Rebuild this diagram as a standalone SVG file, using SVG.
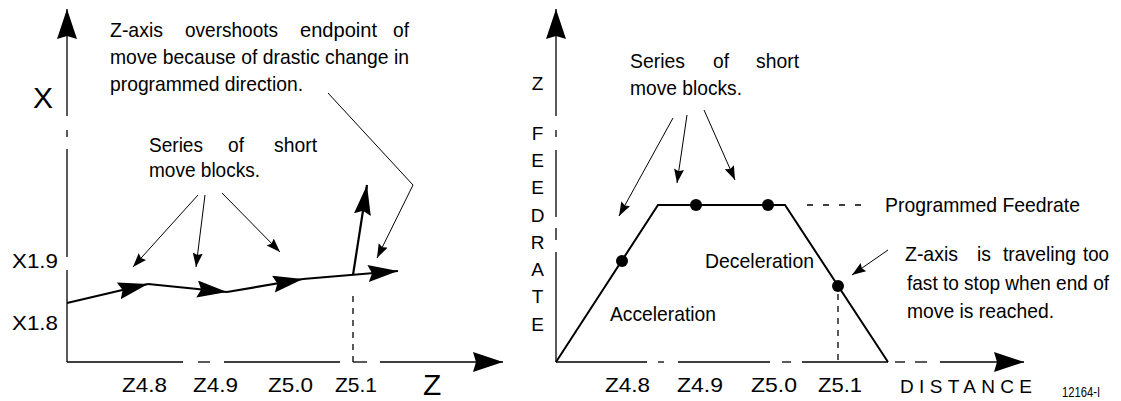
<svg xmlns="http://www.w3.org/2000/svg" width="1121" height="401" viewBox="0 0 1121 401">
<style>
text{font-family:"Liberation Sans",Arial,sans-serif;fill:#000}
.n{font-size:21px}
.lab{font-size:21px}
.big{font-size:30px}
.v{font-size:19px;text-anchor:middle}
.ax{stroke:#000;stroke-width:1.3;fill:none}
.thk{stroke:#000;stroke-width:2.2;fill:none}
.ann{stroke:#000;stroke-width:1;fill:none}
.dsh{stroke:#000;stroke-width:1.3;fill:none;stroke-dasharray:6 6}
.trap{stroke:#000;stroke-width:2;fill:none;stroke-linejoin:miter}
</style>
<defs>
<marker id="axh" markerUnits="userSpaceOnUse" markerWidth="32" markerHeight="22" refX="30" refY="10" orient="auto">
<path d="M0,0 L30,10 L0,20 L3,10 z" fill="#000"/>
</marker>
<marker id="mvh" markerUnits="userSpaceOnUse" markerWidth="32" markerHeight="20" refX="30" refY="8.5" orient="auto">
<path d="M0,0 L30,8.5 L0,17 L4,8.5 z" fill="#000"/>
</marker>
<marker id="smh" markerUnits="userSpaceOnUse" markerWidth="16" markerHeight="12" refX="14" refY="5" orient="auto">
<path d="M0,0 L14,5 L0,10 L2,5 z" fill="#000"/>
</marker>
</defs>
<rect width="1121" height="401" fill="#fff"/>

<g id="left-axes">
<line class="ax" x1="67" y1="116" x2="67" y2="9" marker-end="url(#axh)"/>
<line class="ax" x1="67" y1="130" x2="67" y2="137"/>
<line class="ax" x1="67" y1="149" x2="67" y2="257"/>
<line class="ax" x1="67" y1="270" x2="67" y2="362"/>
<line class="ax" x1="67" y1="362" x2="183" y2="362"/>
<line class="ax" x1="198" y1="362" x2="210" y2="362"/>
<line class="ax" x1="224" y1="362" x2="340" y2="362"/>
<line class="ax" x1="353" y1="362" x2="367" y2="362"/>
<line class="ax" x1="380" y1="362" x2="503" y2="362" marker-end="url(#axh)"/>
<line class="dsh" x1="353" y1="296" x2="353" y2="362"/>
<text class="big" x="33" y="108">X</text>
<text class="big" x="423" y="395">Z</text>
<text class="lab" x="12" y="268" textLength="46" lengthAdjust="spacingAndGlyphs">X1.9</text>
<text class="lab" x="12" y="330" textLength="46" lengthAdjust="spacingAndGlyphs">X1.8</text>
<text class="lab" x="122" y="392" textLength="45" lengthAdjust="spacingAndGlyphs">Z4.8</text>
<text class="lab" x="193" y="392" textLength="45" lengthAdjust="spacingAndGlyphs">Z4.9</text>
<text class="lab" x="268" y="392" textLength="45" lengthAdjust="spacingAndGlyphs">Z5.0</text>
<text class="lab" x="335" y="392" textLength="42" lengthAdjust="spacingAndGlyphs">Z5.1</text>
</g>

<g id="left-moves">
<line class="thk" x1="67" y1="303" x2="148" y2="284" marker-end="url(#mvh)"/>
<line class="thk" x1="148" y1="284" x2="227" y2="292" marker-end="url(#mvh)"/>
<line class="thk" x1="227" y1="292" x2="303" y2="279" marker-end="url(#mvh)"/>
<line class="thk" x1="303" y1="279" x2="398" y2="271" marker-end="url(#mvh)"/>
<line class="thk" x1="353" y1="275" x2="367" y2="185" marker-end="url(#mvh)"/>
</g>

<g id="left-note-overshoot">
<text class="n" y="37"><tspan x="110" textLength="53" lengthAdjust="spacingAndGlyphs">Z-axis</tspan> <tspan x="185" textLength="93" lengthAdjust="spacingAndGlyphs">overshoots</tspan> <tspan x="300" textLength="77" lengthAdjust="spacingAndGlyphs">endpoint</tspan> <tspan x="393" textLength="16" lengthAdjust="spacingAndGlyphs">of</tspan></text>
<text class="n" x="110" y="64" textLength="299" lengthAdjust="spacingAndGlyphs">move because of drastic change in</text>
<text class="n" x="110" y="91" textLength="193" lengthAdjust="spacingAndGlyphs">programmed direction.</text>
</g>

<g id="left-note-series">
<text class="n" y="152"><tspan x="149" textLength="54" lengthAdjust="spacingAndGlyphs">Series</tspan> <tspan x="228" textLength="16" lengthAdjust="spacingAndGlyphs">of</tspan> <tspan x="274" textLength="43" lengthAdjust="spacingAndGlyphs">short</tspan></text>
<text class="n" x="149" y="177" textLength="111" lengthAdjust="spacingAndGlyphs">move blocks.</text>
</g>

<g id="right-axes">
<line class="ax" x1="556" y1="116" x2="556" y2="9" marker-end="url(#axh)"/>
<line class="ax" x1="556" y1="130" x2="556" y2="137"/>
<line class="ax" x1="556" y1="150" x2="556" y2="217"/>
<line class="ax" x1="556" y1="228" x2="556" y2="240"/>
<line class="ax" x1="556" y1="252" x2="556" y2="362"/>
<line class="ax" x1="556" y1="362" x2="647" y2="362"/>
<line class="ax" x1="658" y1="362" x2="664" y2="362"/>
<line class="ax" x1="678" y1="362" x2="770" y2="362"/>
<line class="ax" x1="782" y1="362" x2="791" y2="362"/>
<line class="ax" x1="802" y1="362" x2="888" y2="362"/>
<line class="ax" x1="895" y1="362" x2="905" y2="362"/>
<line class="ax" x1="915" y1="362" x2="927" y2="362"/>
<line class="ax" x1="940" y1="362" x2="1024" y2="362" marker-end="url(#axh)"/>
<line class="dsh" x1="838" y1="294" x2="838" y2="362"/>
<line class="ax" x1="807" y1="205" x2="863" y2="205" stroke-dasharray="6 10"/>
<text class="v" x="537.5" y="90">Z</text>
<text class="v" x="537.5" y="140">F</text>
<text class="v" x="537.5" y="167">E</text>
<text class="v" x="537.5" y="194">E</text>
<text class="v" x="537.5" y="222">D</text>
<text class="v" x="537.5" y="249">R</text>
<text class="v" x="537.5" y="276">A</text>
<text class="v" x="537.5" y="303">T</text>
<text class="v" x="537.5" y="331">E</text>
<text class="lab" x="605" y="392" textLength="45" lengthAdjust="spacingAndGlyphs">Z4.8</text>
<text class="lab" x="677" y="392" textLength="46" lengthAdjust="spacingAndGlyphs">Z4.9</text>
<text class="lab" x="751" y="392" textLength="46" lengthAdjust="spacingAndGlyphs">Z5.0</text>
<text class="lab" x="818" y="392" textLength="44" lengthAdjust="spacingAndGlyphs">Z5.1</text>
<text x="900" y="393" font-size="19" textLength="132" lengthAdjust="spacing">DISTANCE</text>
<text x="1062" y="397" font-size="15" textLength="38" lengthAdjust="spacingAndGlyphs">12164-I</text>
</g>

<g id="feedrate-profile">
<polyline class="trap" points="556,362 658,205 785,205 888,362"/>
<circle cx="622" cy="261" r="6"/>
<circle cx="696" cy="205" r="6"/>
<circle cx="768" cy="205" r="6"/>
<circle cx="838" cy="286" r="6"/>
<text class="n" x="885" y="212" textLength="195" lengthAdjust="spacingAndGlyphs">Programmed Feedrate</text>
<text class="n" x="705" y="268" textLength="109" lengthAdjust="spacingAndGlyphs">Deceleration</text>
<text class="n" x="610" y="321" textLength="106" lengthAdjust="spacingAndGlyphs">Acceleration</text>
</g>

<g id="right-note-series">
<text class="n" y="68"><tspan x="630" textLength="55" lengthAdjust="spacingAndGlyphs">Series</tspan> <tspan x="713" textLength="16" lengthAdjust="spacingAndGlyphs">of</tspan> <tspan x="756" textLength="43" lengthAdjust="spacingAndGlyphs">short</tspan></text>
<text class="n" x="630" y="95" textLength="112" lengthAdjust="spacingAndGlyphs">move blocks.</text>
</g>

<g id="right-note-stop">
<text class="n" y="261"><tspan x="905" textLength="53" lengthAdjust="spacingAndGlyphs">Z-axis</tspan> <tspan x="977" textLength="14" lengthAdjust="spacingAndGlyphs">is</tspan> <tspan x="1003" textLength="73" lengthAdjust="spacingAndGlyphs">traveling</tspan> <tspan x="1083" textLength="26" lengthAdjust="spacingAndGlyphs">too</tspan></text>
<text class="n" x="907" y="290" textLength="202" lengthAdjust="spacingAndGlyphs">fast to stop when end of</text>
<text class="n" x="907" y="318" textLength="147" lengthAdjust="spacingAndGlyphs">move is reached.</text>
</g>

<g id="connectors">
<line class="ann" x1="198" y1="195" x2="133" y2="267" marker-end="url(#smh)"/>
<line class="ann" x1="205" y1="195" x2="196" y2="267" marker-end="url(#smh)"/>
<line class="ann" x1="222" y1="193" x2="280" y2="252" marker-end="url(#smh)"/>
<polyline class="ann" points="328,93 413,185 377,258" marker-end="url(#smh)"/>
<line class="ann" x1="673" y1="118" x2="619" y2="216" marker-end="url(#smh)"/>
<line class="ann" x1="687" y1="115" x2="677" y2="183" marker-end="url(#smh)"/>
<line class="ann" x1="704" y1="110" x2="735" y2="180" marker-end="url(#smh)"/>
<line class="ann" x1="888" y1="250" x2="852" y2="275" marker-end="url(#smh)"/>
</g>
</svg>
